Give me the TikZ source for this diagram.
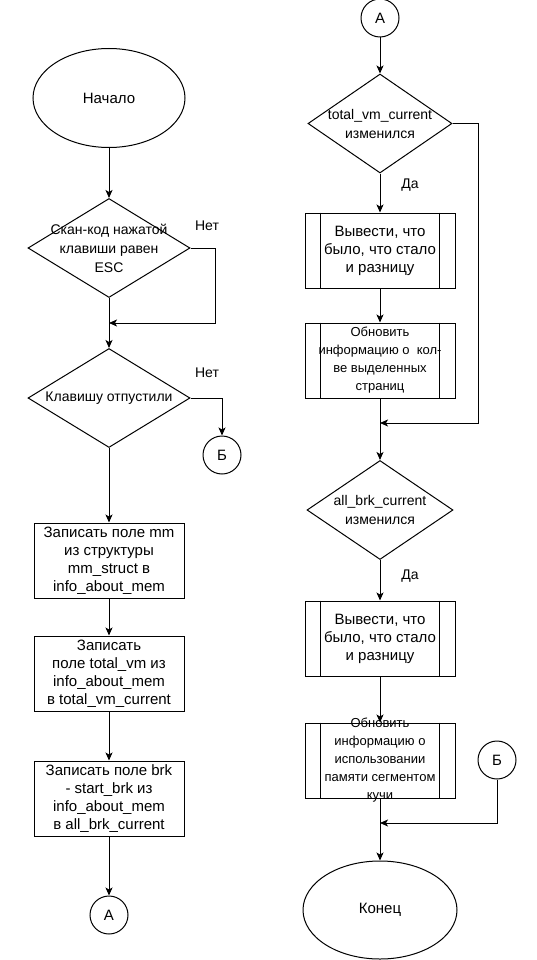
\documentclass[tikz,border=0pt]{standalone}
\usepackage{fontspec}
\setmainfont{Liberation Sans}
\usetikzlibrary{shapes.geometric,arrows.meta}

\begin{document}
\begin{tikzpicture}[x=1pt,y=-1pt,line width=1pt,
    every node/.style={font=\fontsize{15}{18}\selectfont, align=center, inner sep=0pt},
    term/.style={draw, ellipse, minimum width=152pt, minimum height=99pt},
    decision/.style={draw, diamond, minimum width=162pt, minimum height=99pt},
    box/.style={draw, rectangle, minimum width=150pt, minimum height=75pt},
    conn/.style={draw, circle, minimum size=38pt},
    dtext/.style={font=\fontsize{14}{19}\selectfont},
    small/.style={font=\fontsize{13}{18}\selectfont},
    lbl/.style={font=\fontsize{14}{17}\selectfont},
    arr/.style={-{Stealth[length=8pt,width=7pt,inset=2pt]}}]

\useasboundingbox (0,0) rectangle (537,960);

% left column
\node[term] (start) at (109,98) {Начало};
\node[decision, label={[dtext]center:{Скан-код нажатой\\клавиши равен\\ESC}}] (esc) at (109,248) {};
\node[decision, label={[dtext]center:Клавишу отпустили}] (rel) at (109,398) {};
\node[conn] (b1) at (222,455) {Б};
\node[box] (mm) at (109,560.5) {Записать поле mm\\из структуры\\mm\_struct в\\info\_about\_mem};
\node[box] (tvm) at (109,673.5) {Записать\\поле total\_vm из\\info\_about\_mem\\в total\_vm\_current};
\node[box] (brk) at (109,798.5) {Записать поле brk\\- start\_brk из\\info\_about\_mem\\в all\_brk\_current};
\node[conn] (a1) at (109,915) {А};
\coordinate (j1) at (109,323);
\node[lbl] (no1) at (207,226) {Нет};
\node[lbl] (no2) at (207,373) {Нет};

% right column
\node[conn] (a2) at (380,18) {А};
\node[decision, minimum width=144pt, label={[dtext]center:{total\_vm\_current\\изменился}}] (tvmchg) at (380,123.5) {};
\node[box] (s1) at (380,250.5) {Вывести, что\\было, что стало\\и разницу};
\node[box, small] (s2) at (380,360.5) {Обновить\\информацию о\ \ кол-\\ве выделенных\\страниц};
\node[decision, minimum width=146pt, label={[dtext]center:{all\_brk\_current\\изменился}}] (brkchg) at (380,510) {};
\node[box] (s3) at (380,638.5) {Вывести, что\\было, что стало\\и разницу};
\node[box, label={[small]center:{Обновить\\информацию о\\использовании\\памяти сегментом\\кучи}}] (s4) at (380,760.5) {};
\node[conn] (b2) at (497,760) {Б};
\node[term, minimum width=154pt, minimum height=98pt] (end) at (380,910) {Конец};
\coordinate (j2) at (380,423);
\coordinate (j3) at (380,823);
\node[lbl] (yes1) at (410,185) {Да};
\node[lbl] (yes2) at (410,576) {Да};

\foreach \n in {s1,s2,s3,s4} {
    \draw ([xshift=16pt]\n.north west) -- ([xshift=16pt]\n.south west);
    \draw ([xshift=-16pt]\n.north east) -- ([xshift=-16pt]\n.south east);
}

\draw[arr] (start) -- (esc);
\draw[arr] (esc.east) -- ++(25,0) |- (j1);
\draw[arr] (esc) -- (rel);
\draw[arr] (rel.east) -| (b1);
\draw[arr] (rel) -- (mm);
\draw[arr] (mm) -- (tvm);
\draw[arr] (tvm) -- (brk);
\draw[arr] (brk) -- (a1);

\draw[arr] (a2) -- (tvmchg);
\draw[arr] (tvmchg.east) -- ++(26,0) |- (j2);
\draw[arr] (tvmchg) -- (s1);
\draw[arr] (s1) -- (s2);
\draw[arr] (s2) -- (brkchg);
\draw[arr] (brkchg) -- (s3);
\draw[arr] (s3) -- (s4);
\draw[arr] (b2) |- (j3);
\draw[arr] (s4) -- (end);
\end{tikzpicture}
\end{document}
